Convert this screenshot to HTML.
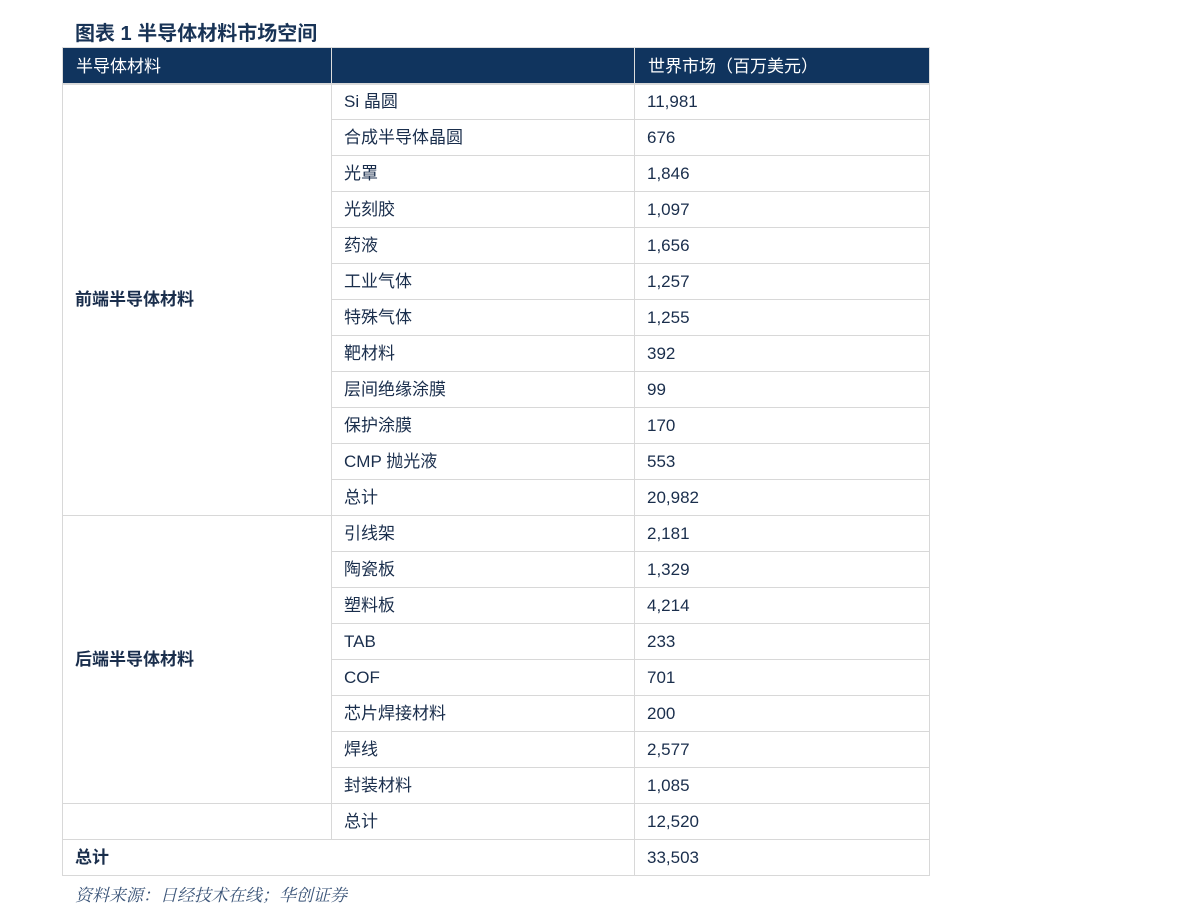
<!DOCTYPE html>
<html><head><meta charset="utf-8"><style>
body{margin:0;width:1191px;height:924px;background:#fff;position:relative;font-family:"Liberation Sans","Noto Sans CJK SC",sans-serif;color:#1a2e4c;overflow:hidden}
.t{position:absolute;left:75px;top:17px;font-size:20px;font-weight:bold;color:#183356}
.c{position:absolute;box-sizing:border-box;border:1.5px solid #d8d8d8;font-size:17px;padding-left:12px;padding-top:2px;white-space:nowrap}
.h{background:#10345e;color:#fff;border:1px solid #10345e;outline:1px solid #dcdcdc}
.s{position:absolute;left:75px;top:881px;font-size:17px;font-style:italic;color:#3a5478;font-family:"Liberation Serif","Noto Serif CJK SC",serif}
</style></head><body>
<div class="t">图表 1 半导体材料市场空间</div>
<div id="tb"></div>
<div class="s">资料来源：日经技术在线；华创证券</div>
<script>
var L=[62,331,634,929];
var rows=[["Si 晶圆","11,981"],["合成半导体晶圆","676"],["光罩","1,846"],["光刻胶","1,097"],["药液","1,656"],["工业气体","1,257"],["特殊气体","1,255"],["靶材料","392"],["层间绝缘涂膜","99"],["保护涂膜","170"],["CMP 抛光液","553"],["总计","20,982"],["引线架","2,181"],["陶瓷板","1,329"],["塑料板","4,214"],["TAB","233"],["COF","701"],["芯片焊接材料","200"],["焊线","2,577"],["封装材料","1,085"],["总计","12,520"]];
var h="";
function cell(x1,x2,y,hh,txt,cls,st){h+='<div class="c '+(cls||"")+'" style="left:'+x1+'px;width:'+(x2-x1+1)+'px;top:'+y+'px;height:'+(hh+1)+'px;line-height:'+(hh-4)+'px;'+(st||"")+'">'+txt+'</div>';}
cell(L[0]+1,L[1]-1,48,35,"半导体材料","h");
cell(L[1]+1,L[2]-1,48,35,"","h");
cell(L[2]+1,L[3]-1,48,35,"世界市场（百万美元）","h");
var y0=83;
for(var i=0;i<rows.length;i++){var y=y0+36*i;cell(L[1],L[2],y,36,rows[i][0]);cell(L[2],L[3],y,36,rows[i][1]);}
cell(L[0],L[1],y0,36*12,"前端半导体材料","","font-weight:bold");
cell(L[0],L[1],y0+36*12,36*8,"后端半导体材料","","font-weight:bold");
cell(L[0],L[1],y0+36*20,36,"");
cell(L[0],L[2],y0+36*21,36,"总计","","font-weight:bold");
cell(L[2],L[3],y0+36*21,36,"33,503");
document.getElementById("tb").innerHTML=h;
</script>
</body></html>
